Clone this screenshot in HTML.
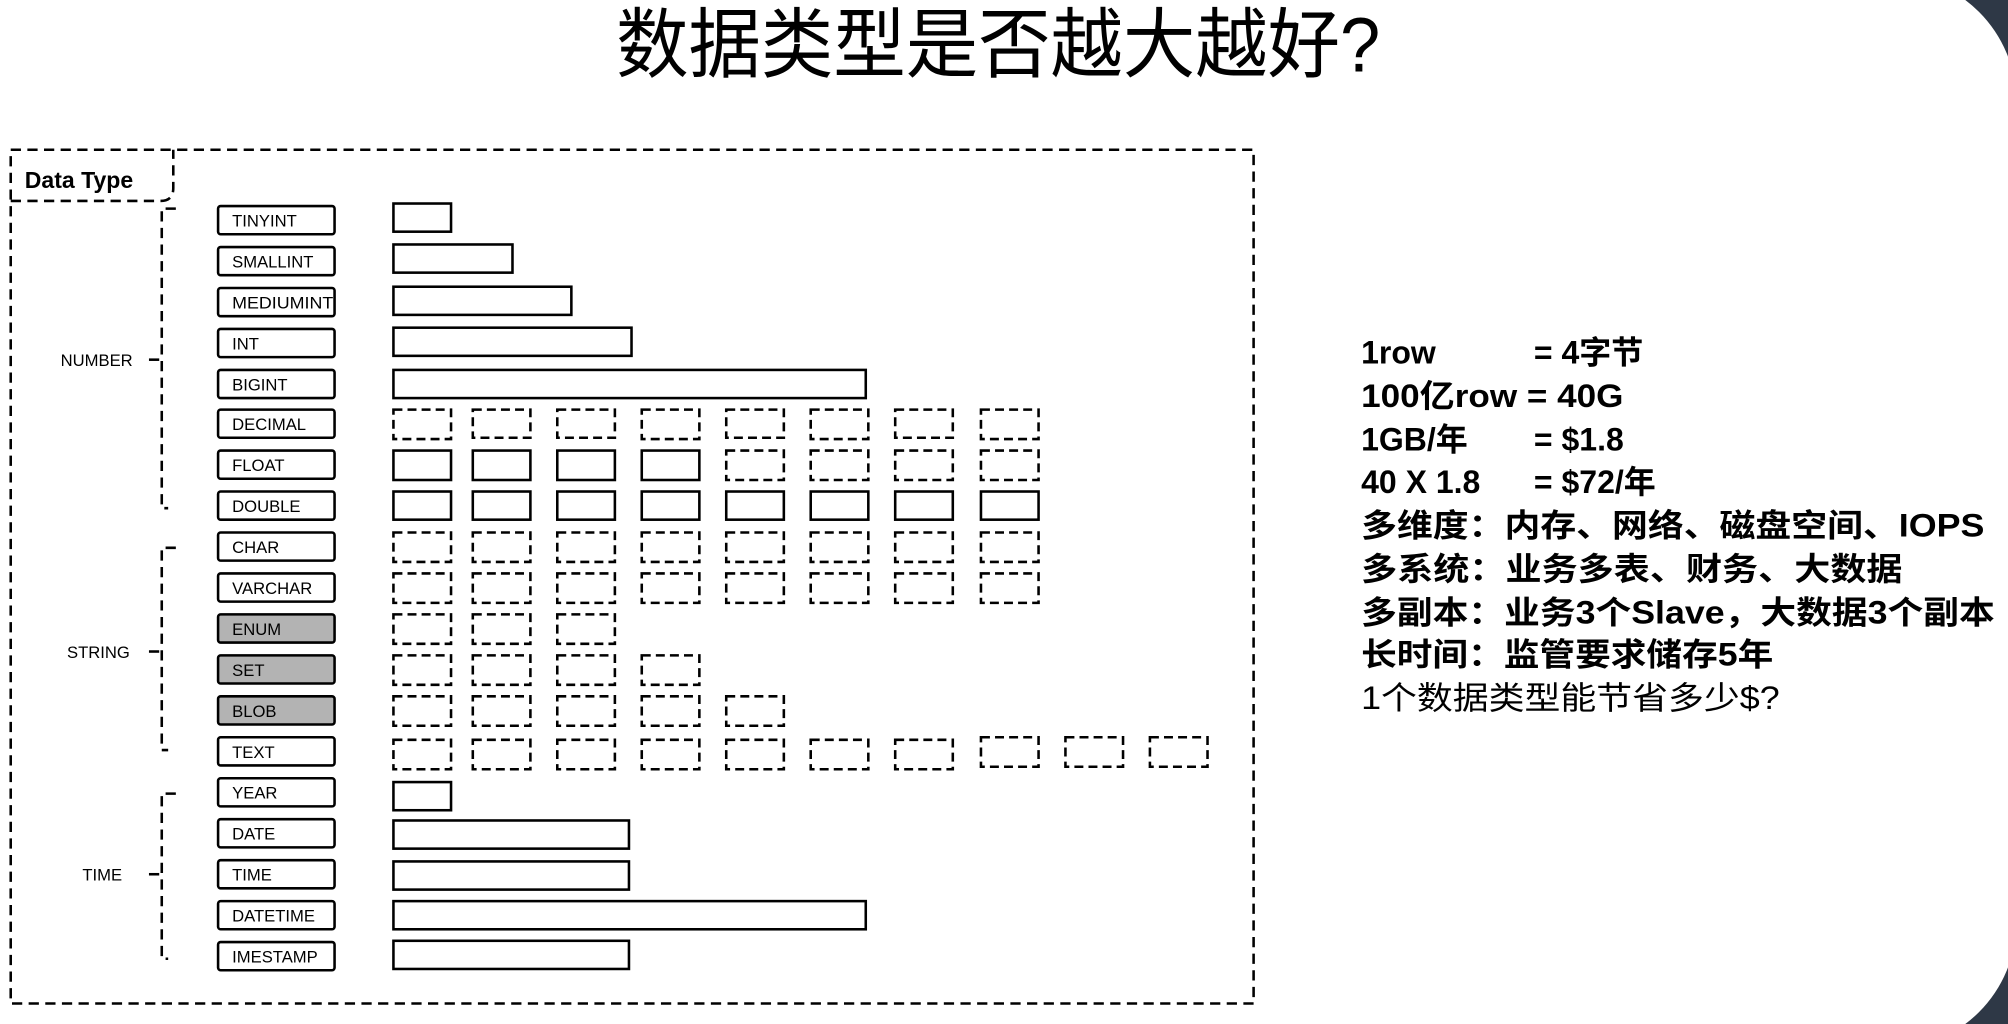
<!DOCTYPE html>
<html><head><meta charset="utf-8">
<style>
html,body{margin:0;padding:0;width:2008px;height:1024px;overflow:hidden;background:#2e3846;}
svg{display:block;}
</style></head>
<body>
<svg width="2008" height="1024" viewBox="0 0 1568 800" xmlns="http://www.w3.org/2000/svg">
<rect x="-200" y="-20" width="1775" height="840" rx="100" ry="100" fill="#ffffff"/>
<text x="481" y="56" font-family="'Liberation Sans','Noto Sans CJK SC',sans-serif" font-size="60" textLength="597" lengthAdjust="spacingAndGlyphs" fill="#000">数据类型是否越大越好?</text>

<g fill="none" stroke="#000" stroke-width="2" stroke-dasharray="8 5">
<rect x="8" y="117" width="971" height="667"/>
<path d="M8 157 H125 Q135 157 135 147 V117"/>
<path d="M137 163 H126 V397 H131"/>
<path d="M116 281 H126"/>
<path d="M137 428 H126 V586 H131"/>
<path d="M116 509 H126"/>
<path d="M137 620 H126 V749 H131"/>
<path d="M116 683 H126"/>
</g>
<text x="19" y="147" font-family="'Liberation Sans','Noto Sans CJK SC',sans-serif" font-size="18" font-weight="bold">Data Type</text>

<g font-family="'Liberation Sans','Noto Sans CJK SC',sans-serif" font-size="13" fill="#000">
<text x="47" y="286">NUMBER</text>
<text x="52" y="514">STRING</text>
<text x="64" y="688">TIME</text>
</g>

<g stroke="#000" stroke-width="2">
<rect x="170" y="161" width="91" height="22" rx="2" fill="#fff"/>
<rect x="170" y="193" width="91" height="22" rx="2" fill="#fff"/>
<rect x="170" y="225" width="91" height="22" rx="2" fill="#fff"/>
<rect x="170" y="257" width="91" height="22" rx="2" fill="#fff"/>
<rect x="170" y="289" width="91" height="22" rx="2" fill="#fff"/>
<rect x="170" y="320" width="91" height="22" rx="2" fill="#fff"/>
<rect x="170" y="352" width="91" height="22" rx="2" fill="#fff"/>
<rect x="170" y="384" width="91" height="22" rx="2" fill="#fff"/>
<rect x="170" y="416" width="91" height="22" rx="2" fill="#fff"/>
<rect x="170" y="448" width="91" height="22" rx="2" fill="#fff"/>
<rect x="170" y="480" width="91" height="22" rx="2" fill="#b3b3b3"/>
<rect x="170" y="512" width="91" height="22" rx="2" fill="#b3b3b3"/>
<rect x="170" y="544" width="91" height="22" rx="2" fill="#b3b3b3"/>
<rect x="170" y="576" width="91" height="22" rx="2" fill="#fff"/>
<rect x="170" y="608" width="91" height="22" rx="2" fill="#fff"/>
<rect x="170" y="640" width="91" height="22" rx="2" fill="#fff"/>
<rect x="170" y="672" width="91" height="22" rx="2" fill="#fff"/>
<rect x="170" y="704" width="91" height="22" rx="2" fill="#fff"/>
<rect x="170" y="736" width="91" height="22" rx="2" fill="#fff"/>
</g>
<g font-family="'Liberation Sans','Noto Sans CJK SC',sans-serif" font-size="13" fill="#000">
<text x="181" y="177">TINYINT</text>
<text x="181" y="209">SMALLINT</text>
<text x="181" y="241" textLength="79" lengthAdjust="spacingAndGlyphs">MEDIUMINT</text>
<text x="181" y="273">INT</text>
<text x="181" y="305">BIGINT</text>
<text x="181" y="336">DECIMAL</text>
<text x="181" y="368">FLOAT</text>
<text x="181" y="400">DOUBLE</text>
<text x="181" y="432">CHAR</text>
<text x="181" y="464">VARCHAR</text>
<text x="181" y="496">ENUM</text>
<text x="181" y="528">SET</text>
<text x="181" y="560">BLOB</text>
<text x="181" y="592">TEXT</text>
<text x="181" y="624">YEAR</text>
<text x="181" y="656">DATE</text>
<text x="181" y="688">TIME</text>
<text x="181" y="720">DATETIME</text>
<text x="181" y="752">IMESTAMP</text>
</g>

<!-- solid bars -->
<g fill="none" stroke="#000" stroke-width="2">
<rect x="307" y="159" width="45" height="22"/>
<rect x="307" y="191" width="93" height="22"/>
<rect x="307" y="224" width="139" height="22"/>
<rect x="307" y="256" width="186" height="22"/>
<rect x="307" y="289" width="369" height="22"/>
<rect x="307" y="352" width="45" height="23"/><rect x="369" y="352" width="45" height="23"/><rect x="435" y="352" width="45" height="23"/><rect x="501" y="352" width="45" height="23"/>
<rect x="307" y="384" width="45" height="22"/><rect x="369" y="384" width="45" height="22"/><rect x="435" y="384" width="45" height="22"/><rect x="501" y="384" width="45" height="22"/><rect x="567" y="384" width="45" height="22"/><rect x="633" y="384" width="45" height="22"/><rect x="699" y="384" width="45" height="22"/><rect x="766" y="384" width="45" height="22"/>
<rect x="307" y="611" width="45" height="22"/>
<rect x="307" y="641" width="184" height="22"/>
<rect x="307" y="673" width="184" height="22"/>
<rect x="307" y="704" width="369" height="22"/>
<rect x="307" y="735" width="184" height="22"/>
</g>
<!-- dashed cells -->
<g fill="none" stroke="#000" stroke-width="2" stroke-dasharray="7 4">
<rect x="307" y="320" width="45" height="23"/><rect x="369" y="320" width="45" height="22"/><rect x="435" y="320" width="45" height="22"/><rect x="501" y="320" width="45" height="23"/><rect x="567" y="320" width="45" height="22"/><rect x="633" y="320" width="45" height="23"/><rect x="699" y="320" width="45" height="22"/><rect x="766" y="320" width="45" height="23"/>
<rect x="567" y="352" width="45" height="23"/><rect x="633" y="352" width="45" height="23"/><rect x="699" y="352" width="45" height="23"/><rect x="766" y="352" width="45" height="23"/>
<rect x="307" y="416" width="45" height="23"/><rect x="369" y="416" width="45" height="23"/><rect x="435" y="416" width="45" height="23"/><rect x="501" y="416" width="45" height="23"/><rect x="567" y="416" width="45" height="23"/><rect x="633" y="416" width="45" height="23"/><rect x="699" y="416" width="45" height="23"/><rect x="766" y="416" width="45" height="23"/>
<rect x="307" y="448" width="45" height="23"/><rect x="369" y="448" width="45" height="23"/><rect x="435" y="448" width="45" height="23"/><rect x="501" y="448" width="45" height="23"/><rect x="567" y="448" width="45" height="23"/><rect x="633" y="448" width="45" height="23"/><rect x="699" y="448" width="45" height="23"/><rect x="766" y="448" width="45" height="23"/>
<rect x="307" y="480" width="45" height="23"/><rect x="369" y="480" width="45" height="23"/><rect x="435" y="480" width="45" height="23"/>
<rect x="307" y="512" width="45" height="23"/><rect x="369" y="512" width="45" height="23"/><rect x="435" y="512" width="45" height="23"/><rect x="501" y="512" width="45" height="23"/>
<rect x="307" y="544" width="45" height="23"/><rect x="369" y="544" width="45" height="23"/><rect x="435" y="544" width="45" height="23"/><rect x="501" y="544" width="45" height="23"/><rect x="567" y="544" width="45" height="23"/>
<rect x="307" y="578" width="45" height="23"/><rect x="369" y="578" width="45" height="23"/><rect x="435" y="578" width="45" height="23"/><rect x="501" y="578" width="45" height="23"/><rect x="567" y="578" width="45" height="23"/><rect x="633" y="578" width="45" height="23"/><rect x="699" y="578" width="45" height="23"/><rect x="766" y="576" width="45" height="23"/><rect x="832" y="576" width="45" height="23"/><rect x="898" y="576" width="45" height="23"/>
</g>

<g font-family="'Liberation Sans','Noto Sans CJK SC',sans-serif" font-size="25" font-weight="bold" fill="#000">
<text x="1063" y="284">1row</text><text x="1198" y="284">=  4字节</text>
<text x="1063" y="318" textLength="205" lengthAdjust="spacingAndGlyphs">100亿row = 40G</text>
<text x="1063" y="352">1GB/年</text><text x="1198" y="352">= $1.8</text>
<text x="1063" y="385">40 X  1.8</text><text x="1198" y="385">=  $72/年</text>
<text x="1063" y="419" textLength="487" lengthAdjust="spacingAndGlyphs">多维度：内存、网络、磁盘空间、IOPS</text>
<text x="1063" y="453" textLength="423" lengthAdjust="spacingAndGlyphs">多系统：业务多表、财务、大数据</text>
<text x="1063" y="487" textLength="495" lengthAdjust="spacingAndGlyphs">多副本：业务3个Slave，大数据3个副本</text>
<text x="1063" y="520" textLength="322" lengthAdjust="spacingAndGlyphs">长时间：监管要求储存5年</text>
<text x="1063" y="554" font-weight="normal" textLength="327" lengthAdjust="spacingAndGlyphs">1个数据类型能节省多少$?</text>
</g>
</svg>
</body></html>
